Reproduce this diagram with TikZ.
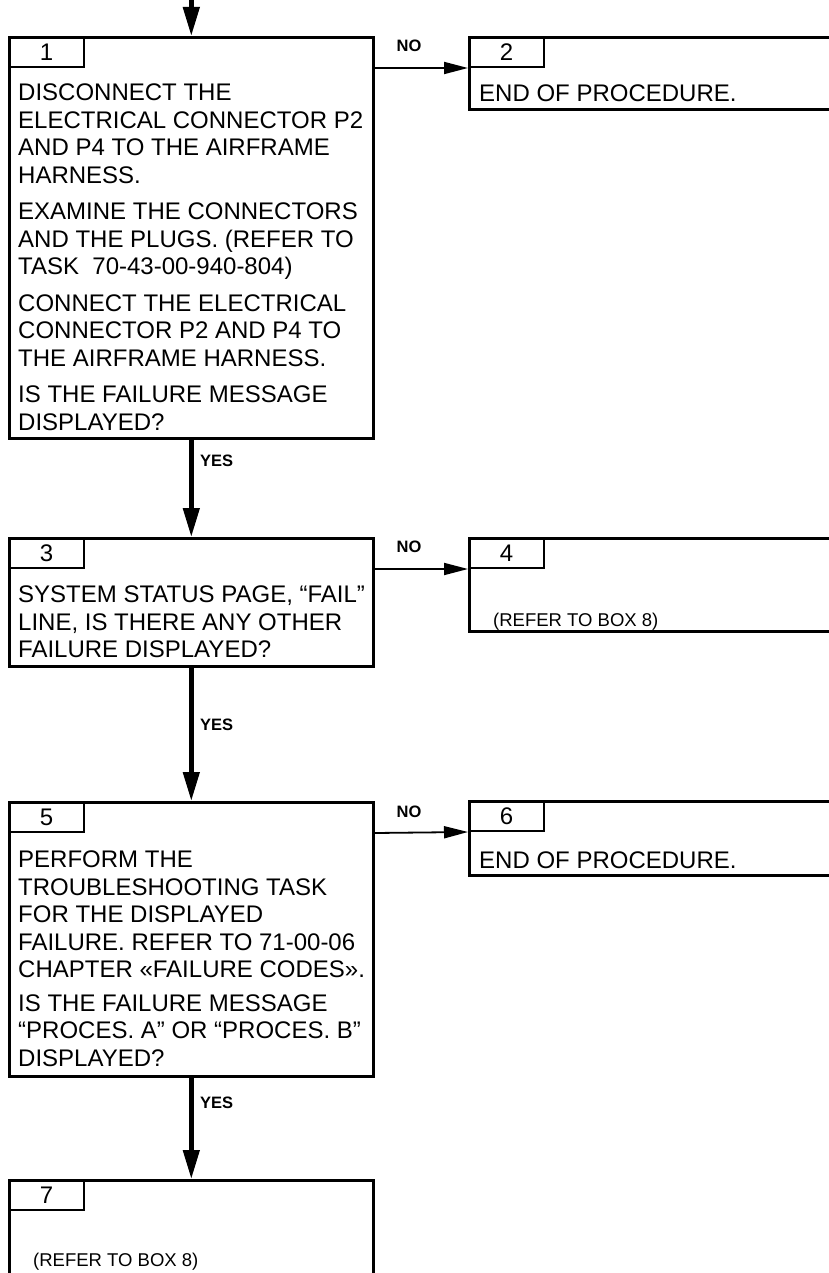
\documentclass[tikz,border=0pt]{standalone}
\usepackage{fontspec}
\setmainfont{Liberation Sans}
\usetikzlibrary{arrows.meta,positioning}

\tikzset{
  box/.style={draw, line width=2.6pt, anchor=north west, minimum width=364pt, inner sep=0pt},
  openbox/.style={box, minimum width=400pt},
  tab/.style={draw, line width=2pt, anchor=north west, minimum width=75pt, minimum height=30pt,
    inner sep=0pt, font=\fontsize{24}{24}\selectfont},
  body/.style={anchor=north west, align=left, inner sep=0pt, font=\fontsize{24}{27.5}\selectfont},
  note/.style={anchor=north west, inner sep=0pt, font=\fontsize{18.5}{20}\selectfont},
  lbl/.style={inner sep=0pt, font=\fontsize{16.5}{18}\selectfont\bfseries},
  yesline/.style={line width=4.5pt, -{Triangle[length=29pt,width=16pt]}},
  noline/.style={line width=1.8pt, -{Triangle[length=24pt,width=12pt]}},
}

\begin{document}
\begin{tikzpicture}[x=1pt,y=-1pt]

    \fill[white] (0,0) rectangle (829,1273);
    \useasboundingbox (0,0) rectangle (829,1273);
    \clip (0,0) rectangle (829,1273);

    % ─────────── Box 1 ─────────────────────────────────────────────────
    \node[box, minimum height=401pt] (b1) at (8,36) {};
    \node[tab] (t1) at (b1.north west) {1};
    \node[body] (x1) at (18,84) {DISCONNECT THE\\
      ELECTRICAL CONNECTOR P2\\
      AND P4 TO THE AIRFRAME\\
      HARNESS.\\[9pt]
      EXAMINE THE CONNECTORS\\
      AND THE PLUGS. (REFER TO\\
      TASK\ \ 70-43-00-940-804)\\[9pt]
      CONNECT THE ELECTRICAL\\
      CONNECTOR P2 AND P4 TO\\
      THE AIRFRAME HARNESS.\\[9pt]
      IS THE FAILURE MESSAGE\\
      DISPLAYED?};

    % ─────────── Box 2 ─────────────────────────────────────────────────
    \node[openbox, minimum height=72pt] (b2) at (468,36) {};
    \node[tab] (t2) at (b2.north west) {2};
    \node[body] (x2) at (479,85) {END OF PROCEDURE.};

    % ─────────── Box 3 ─────────────────────────────────────────────────
    \node[box, minimum height=128pt] (b3) at (8,537) {};
    \node[tab] (t3) at (b3.north west) {3};
    \node[body] (x3) at (18,586) {SYSTEM STATUS PAGE, “FAIL”\\
      LINE, IS THERE ANY OTHER\\
      FAILURE DISPLAYED?};

    % ─────────── Box 4 ─────────────────────────────────────────────────
    \node[openbox, minimum height=93pt] (b4) at (468,537) {};
    \node[tab] (t4) at (b4.north west) {4};
    \node[note] (x4) at (493,613) {(REFER TO BOX 8)};

    % ─────────── Box 5 ─────────────────────────────────────────────────
    \node[box, minimum height=274pt] (b5) at (8,801) {};
    \node[tab] (t5) at (b5.north west) {5};
    \node[body] (x5) at (18,851) {PERFORM THE\\
      TROUBLESHOOTING TASK\\
      FOR THE DISPLAYED\\
      FAILURE. REFER TO 71-00-06\\
      CHAPTER «FAILURE CODES».\\[6pt]
      IS THE FAILURE MESSAGE\\
      “PROCES. A” OR “PROCES. B”\\
      DISPLAYED?};

    % ─────────── Box 6 ─────────────────────────────────────────────────
    \node[openbox, minimum height=74pt] (b6) at (468,800) {};
    \node[tab] (t6) at (b6.north west) {6};
    \node[body] (x6) at (479,852) {END OF PROCEDURE.};

    % ─────────── Box 7 ─────────────────────────────────────────────────
    \node[box, minimum height=120pt] (b7) at (8,1179) {};
    \node[tab] (t7) at (b7.north west) {7};
    \node[note] (x7) at (33,1253) {(REFER TO BOX 8)};

    % ─────────── connectors ────────────────────────────────────────────
    \coordinate (entry) at (b1.north |- 0,0);
    \draw[yesline] (entry) -- (b1.north);
    \draw[yesline] (b1.south) -- (b3.north);
    \draw[yesline] (b3.south) -- (b5.north);
    \draw[yesline] (b5.south) -- (b7.north);
    \draw[noline] (t1.south -| b1.east) -- (t2.south west);
    \draw[noline] (t3.south -| b3.east) -- (t4.south west);
    \draw[noline] (t5.south -| b5.east) -- (t6.south west);

    \node[lbl, anchor=west] (y1) at (200,461) {YES};
    \node[lbl, anchor=west] (y2) at (200,725) {YES};
    \node[lbl, anchor=west] (y3) at (200,1103) {YES};
    \node[lbl] (n1) at (409,46) {NO};
    \node[lbl] (n2) at (409,547) {NO};
    \node[lbl] (n3) at (409,812) {NO};
  \end{tikzpicture}
\end{document}
